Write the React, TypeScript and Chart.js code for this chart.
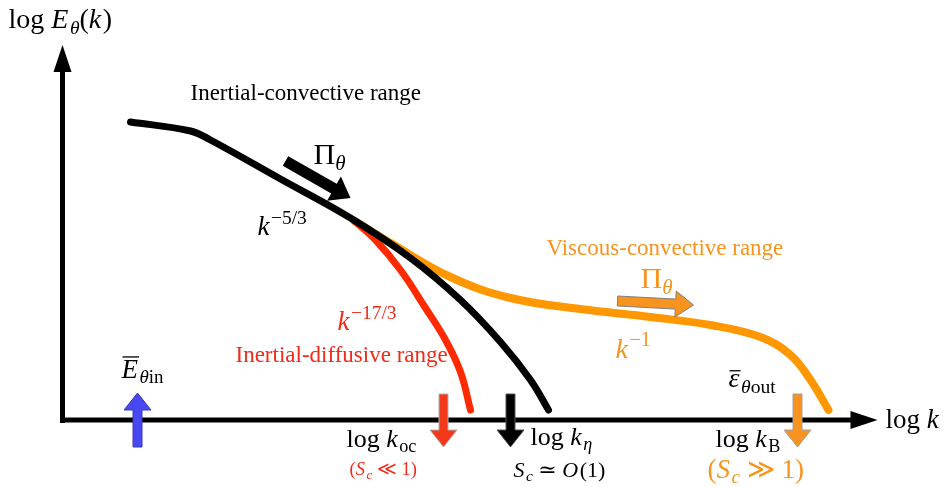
import { useEffect, useRef } from "react";
import { Chart, registerables } from "chart.js";
Chart.register(...registerables);

// Schematic spectrum: x = log k (arbitrary units), y = log E (arbitrary units)
const blackCurve: [number, number][] = [
  [0.68, 2.98], [1.28, 2.89], [1.48, 2.8], [2.18, 2.41], [2.88, 2.02], [3.48, 1.62],
  [3.98, 1.2], [4.38, 0.78], [4.68, 0.4], [4.86, 0.1],
];
const redCurve: [number, number][] = [
  [2.92, 1.99], [3.13, 1.8], [3.38, 1.5], [3.63, 1.12], [3.83, 0.8], [3.98, 0.48], [4.08, 0.1],
];
const orangeCurve: [number, number][] = [
  [2.92, 1.99], [3.28, 1.77], [3.88, 1.43], [4.48, 1.22], [5.18, 1.11], [5.88, 1.03],
  [6.48, 0.95], [6.98, 0.83], [7.28, 0.65], [7.48, 0.4], [7.66, 0.1],
];

const xAxisArrow = { from: [0, 0], to: [8.15, 0] };
const yAxisArrow = { from: [0, -0.03], to: [0, 3.75] };

const blueArrow = { from: [0.75, -0.27], to: [0.75, 0.27] };
const redArrow = { from: [3.81, 0.26], to: [3.81, -0.27] };
const blackArrow = { from: [4.48, 0.26], to: [4.48, -0.27] };
const orangeArrow = { from: [7.35, 0.26], to: [7.35, -0.27] };
const fluxArrowBlack = { from: [2.23, 2.59], to: [2.88, 2.22] };
const fluxArrowOrange = { from: [5.55, 1.19], to: [6.31, 1.15] };

type Seg = { t: string; it?: boolean; sub?: boolean; sup?: boolean; bar?: boolean };
type Label = { at: [number, number]; segs: Seg[]; size: number; color: string };

const BLACK = "#000000";
const RED = "#f22a1a";
const ORANGE = "#f7931e";

const labels: Label[] = [
  { at: [-0.54, 3.92], size: 28, color: BLACK, segs: [{ t: "log " }, { t: "E", it: true }, { t: "θ", it: true, sub: true }, { t: "(" }, { t: "k", it: true }, { t: ")" }] },
  { at: [8.23, -0.08], size: 27, color: BLACK, segs: [{ t: "log " }, { t: "k", it: true }] },
  { at: [1.28, 3.2], size: 23, color: BLACK, segs: [{ t: "Inertial-convective range" }] },
  { at: [2.51, 2.56], size: 30, color: BLACK, segs: [{ t: "Π" }, { t: "θ", it: true, sub: true }] },
  { at: [1.95, 1.85], size: 27, color: BLACK, segs: [{ t: "k", it: true }, { t: "−5/3", sup: true }] },
  { at: [4.84, 1.65], size: 23, color: ORANGE, segs: [{ t: "Viscous-convective range" }] },
  { at: [5.78, 1.32], size: 30, color: ORANGE, segs: [{ t: "Π" }, { t: "θ", it: true, sub: true }] },
  { at: [2.75, 0.9], size: 27, color: RED, segs: [{ t: "k", it: true }, { t: "−17/3", sup: true }] },
  { at: [1.73, 0.58], size: 23, color: RED, segs: [{ t: "Inertial-diffusive range" }] },
  { at: [5.53, 0.62], size: 28, color: ORANGE, segs: [{ t: "k", it: true }, { t: "−1", sup: true }] },
  { at: [0.59, 0.42], size: 27, color: BLACK, segs: [{ t: "E", it: true, bar: true }, { t: "θ", it: true, sub: true }, { t: "in", sub: true }] },
  { at: [6.66, 0.33], size: 28, color: BLACK, segs: [{ t: "ε", it: true, bar: true }, { t: "θ", it: true, sub: true }, { t: "out", sub: true }] },
  { at: [2.84, -0.27], size: 26, color: BLACK, segs: [{ t: "log " }, { t: "k", it: true }, { t: "oc", sub: true }] },
  { at: [2.87, -0.55], size: 18.5, color: RED, segs: [{ t: "(" }, { t: "S", it: true }, { t: "c", it: true, sub: true }, { t: " ≪ 1)" }] },
  { at: [4.68, -0.25], size: 26, color: BLACK, segs: [{ t: "log " }, { t: "k", it: true }, { t: "η", it: true, sub: true }] },
  { at: [4.51, -0.57], size: 22, color: BLACK, segs: [{ t: "S", it: true }, { t: "c", it: true, sub: true }, { t: " ≃ " }, { t: "O", it: true }, { t: "(1)" }] },
  { at: [6.53, -0.27], size: 26, color: BLACK, segs: [{ t: "log " }, { t: "k", it: true }, { t: "B", sub: true }] },
  { at: [6.45, -0.58], size: 27, color: ORANGE, segs: [{ t: "(" }, { t: "S", it: true }, { t: "c", it: true, sub: true }, { t: " ≫ 1)" }] },
];

const FONT = '"Liberation Serif", "DejaVu Serif", serif';

function drawRich(ctx: CanvasRenderingContext2D, x: number, y: number, l: Label) {
  let cx = x;
  ctx.fillStyle = l.color;
  ctx.strokeStyle = l.color;
  ctx.textBaseline = "alphabetic";
  ctx.textAlign = "left";
  for (const s of l.segs) {
    const fs = s.sub ? l.size * 0.7 : s.sup ? l.size * 0.72 : l.size;
    ctx.font = `${s.it ? "italic " : ""}${fs}px ${FONT}`;
    const dy = s.sub ? l.size * 0.2 : s.sup ? -l.size * 0.42 : 0;
    ctx.fillText(s.t, cx, y + dy);
    const w = ctx.measureText(s.t).width;
    if (s.bar) {
      const by = y - (s.t === "E" ? l.size * 0.78 : l.size * 0.58);
      ctx.lineWidth = 1.3;
      ctx.beginPath();
      ctx.moveTo(cx + 1, by);
      ctx.lineTo(cx + w + 1, by);
      ctx.stroke();
    }
    cx += w + (s.it && !s.sub && !s.sup ? 1.5 : 0);
  }
}

function blockArrow(
  ctx: CanvasRenderingContext2D,
  tail: [number, number],
  tip: [number, number],
  shaftHalf: number,
  headHalf: number,
  headLen: number,
  fill: string,
  stroke: string | null
) {
  const dx = tip[0] - tail[0];
  const dy = tip[1] - tail[1];
  const len = Math.hypot(dx, dy);
  const ux = dx / len, uy = dy / len;
  const nx = -uy, ny = ux;
  const bx = tip[0] - ux * headLen, by = tip[1] - uy * headLen;
  ctx.beginPath();
  ctx.moveTo(tail[0] + nx * shaftHalf, tail[1] + ny * shaftHalf);
  ctx.lineTo(bx + nx * shaftHalf, by + ny * shaftHalf);
  ctx.lineTo(bx + nx * headHalf, by + ny * headHalf);
  ctx.lineTo(tip[0], tip[1]);
  ctx.lineTo(bx - nx * headHalf, by - ny * headHalf);
  ctx.lineTo(bx - nx * shaftHalf, by - ny * shaftHalf);
  ctx.lineTo(tail[0] - nx * shaftHalf, tail[1] - ny * shaftHalf);
  ctx.closePath();
  ctx.fillStyle = fill;
  ctx.fill();
  if (stroke) {
    ctx.strokeStyle = stroke;
    ctx.lineWidth = 1;
    ctx.stroke();
  }
}

export default function App() {
  const ref = useRef<HTMLCanvasElement | null>(null);
  useEffect(() => {
    document.body.style.margin = "0";
    const canvas = ref.current!;
    const toPx = (chart: any, p: number[]): [number, number] => [
      chart.scales.x.getPixelForValue(p[0]),
      chart.scales.y.getPixelForValue(p[1]),
    ];
    const decor = {
      id: "decor",
      beforeDatasetsDraw(chart: any) {
        const ctx: CanvasRenderingContext2D = chart.ctx;
        ctx.save();
        ctx.strokeStyle = "#000";
        ctx.fillStyle = "#000";
        ctx.lineWidth = 5;
        for (const a of [xAxisArrow, yAxisArrow]) {
          const f = toPx(chart, a.from);
          const t = toPx(chart, a.to);
          const len = Math.hypot(t[0] - f[0], t[1] - f[1]);
          const ux = (t[0] - f[0]) / len, uy = (t[1] - f[1]) / len;
          const hl = 27, hw = 9;
          ctx.beginPath();
          ctx.moveTo(f[0], f[1]);
          ctx.lineTo(t[0] - ux * hl * 0.8, t[1] - uy * hl * 0.8);
          ctx.stroke();
          ctx.beginPath();
          ctx.moveTo(t[0], t[1]);
          ctx.lineTo(t[0] - ux * hl - uy * hw, t[1] - uy * hl + ux * hw);
          ctx.lineTo(t[0] - ux * hl + uy * hw, t[1] - uy * hl - ux * hw);
          ctx.closePath();
          ctx.fill();
        }
        ctx.restore();
      },
      afterDatasetsDraw(chart: any) {
        const ctx: CanvasRenderingContext2D = chart.ctx;
        ctx.save();
        ctx.lineJoin = "miter";
        blockArrow(ctx, toPx(chart, blueArrow.from), toPx(chart, blueArrow.to), 4.5, 13.5, 17, "#4848f2", "#3a3ab0");
        blockArrow(ctx, toPx(chart, redArrow.from), toPx(chart, redArrow.to), 4.5, 13.5, 17, "#f23a1a", "#b0b0b0");
        blockArrow(ctx, toPx(chart, blackArrow.from), toPx(chart, blackArrow.to), 4.5, 13.5, 17, "#000000", "#555555");
        blockArrow(ctx, toPx(chart, orangeArrow.from), toPx(chart, orangeArrow.to), 4.5, 13.5, 17, "#f7931e", "#a0a0a0");
        blockArrow(ctx, toPx(chart, fluxArrowBlack.from), toPx(chart, fluxArrowBlack.to), 5.5, 14, 19, "#000000", null);
        blockArrow(ctx, toPx(chart, fluxArrowOrange.from), toPx(chart, fluxArrowOrange.to), 5, 13, 18, "#f7931e", "#808080");
        for (const l of labels) {
          const p = toPx(chart, l.at);
          drawRich(ctx, p[0], p[1], l);
        }
        ctx.restore();
      },
    };
    const line = (data: [number, number][], color: string, width: number, order: number) => ({
      data: data.map(([x, y]) => ({ x, y })),
      showLine: true,
      borderColor: color,
      borderWidth: width,
      pointRadius: 0,
      tension: 0.4,
      borderCapStyle: "round" as const,
      borderJoinStyle: "round" as const,
      order,
    });
    const chart = new Chart(canvas, {
      type: "scatter",
      data: {
        datasets: [
          line(blackCurve, "#000000", 7, 0),
          line(redCurve, "#ff2a00", 7, 1),
          line(orangeCurve, "#ff9800", 8, 2),
        ],
      },
      options: {
        responsive: false,
        animation: false,
        layout: { padding: 0 },
        plugins: { legend: { display: false }, tooltip: { enabled: false } },
        scales: {
          x: { type: "linear", min: -0.625, max: 8.835, display: false },
          y: { type: "linear", min: -0.67, max: 4.2, display: false },
        },
      },
      plugins: [decor],
    });
    return () => chart.destroy();
  }, []);
  return <canvas ref={ref} width={946} height={487} style={{ display: "block" }} />;
}
